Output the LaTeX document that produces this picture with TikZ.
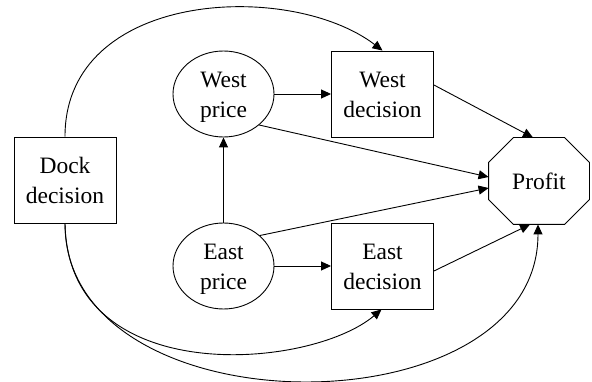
\documentclass[tikz,border=0pt]{standalone}
\usepackage{fontspec}
\setmainfont{Liberation Serif}
\usetikzlibrary{arrows.meta,shapes.geometric}

\newcommand\twol[2]{\rule{0pt}{17pt}#1\\\raisebox{0pt}[\height][0pt]{#2}}

\begin{document}
\begin{tikzpicture}[x=1pt,y=-1pt,
  lbl/.style={font=\fontsize{23.5}{30}\selectfont, align=center, inner sep=0pt, line width=0.9pt},
  box/.style={lbl, draw, rectangle, minimum width=102pt, minimum height=86pt},
  oval/.style={lbl, draw, ellipse, minimum width=101pt, minimum height=86pt},
  octo/.style={lbl, rectangle, minimum width=100pt, minimum height=86pt},
  edge/.style={line width=0.9pt, -{Triangle[length=10pt,width=9pt]}}]
\useasboundingbox (0,0) rectangle (592,382);

\node[box]  (Dock) at (65,180)    {\twol{Dock}{decision}};
\node[oval] (WP)   at (223.5,94)  {\twol{West}{price}};
\node[oval] (EP)   at (223.5,266) {\twol{East}{price}};
\node[box]  (WD)   at (382.5,94)  {\twol{West}{decision}};
\node[box]  (ED)   at (382.5,266) {\twol{East}{decision}};
\node[octo] (Profit) at (539,181) {Profit};
\draw[line width=0.9pt] ([xshift=25pt]Profit.north west) -- ([xshift=-25pt]Profit.north east)
  -- ([yshift=-25pt]Profit.north east) -- ([yshift=25pt]Profit.south east)
  -- ([xshift=-25pt]Profit.south east) -- ([xshift=25pt]Profit.south west)
  -- ([yshift=25pt]Profit.south west) -- ([yshift=-25pt]Profit.north west) -- cycle;

\draw[edge] (WP) -- (WD);
\draw[edge] (EP) -- (ED);
\draw[edge] (EP) -- (WP);
\draw[edge] (WP.-41) -- ([yshift=4pt]Profit.west);
\draw[edge] (EP.40) -- ([yshift=-7pt]Profit.west);
\draw[edge] ([yshift=9pt]WD.east) -- ([xshift=-6pt]Profit.north);
\draw[edge] ([yshift=-5pt]ED.east) -- ([xshift=-9pt]Profit.south);
\draw[edge] (Dock.north) .. controls (65,-10) and (290,-20) .. (WD.north);
\draw[edge] (Dock.south) .. controls (68,390) and (310,370) .. ([xshift=-1pt]ED.south);
\draw[edge] (Dock.south) .. controls (65,433) and (538,433) .. ([xshift=-1pt]Profit.south);
\end{tikzpicture}
\end{document}
